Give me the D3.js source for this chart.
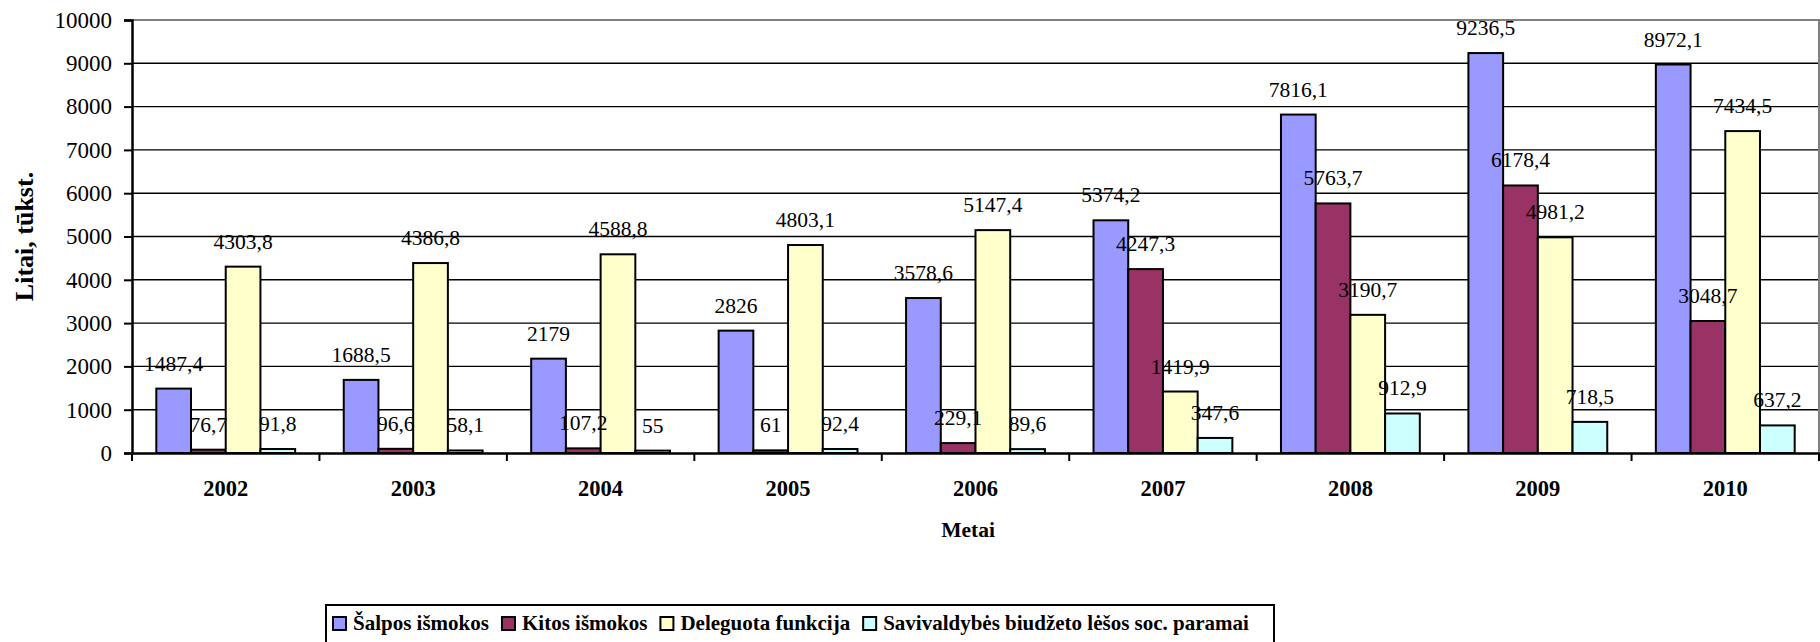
<!DOCTYPE html>
<html>
<head>
<meta charset="utf-8">
<script src="https://cdn.jsdelivr.net/npm/d3@7"></script>
</head>
<body style="margin:0; background:#fff">
<svg id="chart" width="1820" height="642"></svg>
<script>
var size = {width: 1820, height: 642}
var margins = {top: 20, right: 1, bottom: 189, left: 132}
var FONT = "'Liberation Serif'"

// data
var years = ["2002", "2003", "2004", "2005", "2006", "2007", "2008", "2009", "2010"]
var seriesNames = ["Šalpos išmokos", "Kitos išmokos", "Deleguota funkcija", "Savivaldybės biudžeto lėšos soc. paramai"]
var salpos = [1487.4, 1688.5, 2179, 2826, 3578.6, 5374.2, 7816.1, 9236.5, 8972.1]
var kitos = [76.7, 96.6, 107.2, 61, 229.1, 4247.3, 5763.7, 6178.4, 3048.7]
var deleguota = [4303.8, 4386.8, 4588.8, 4803.1, 5147.4, 1419.9, 3190.7, 4981.2, 7434.5]
var savivaldybes = [91.8, 58.1, 55, 92.4, 89.6, 347.6, 912.9, 718.5, 637.2]
var yTicks = [0, 1000, 2000, 3000, 4000, 5000, 6000, 7000, 8000, 9000, 10000]
var colors = ["#9999FF", "#993366", "#FFFFCC", "#CCFFFF"]

var allSeries = [salpos, kitos, deleguota, savivaldybes]

var svg = d3.select("#chart")

var width = size.width - margins.left - margins.right
var height = size.height - margins.top - margins.bottom

var xScale = d3.scaleBand()
    .domain(years)
    .range([margins.left, margins.left + width])
    .padding(0)

var inner = d3.scaleBand()
    .domain(d3.range(seriesNames.length))
    .range([0, xScale.bandwidth()])
    .paddingInner(0)
    .paddingOuter(0.7)

var yScale = d3.scaleLinear()
    .domain([0, 10000])
    .range([margins.top + height, margins.top])

// gridlines
svg.append("g")
    .selectAll("line")
    .data(yTicks.filter(function(t){ return t > 0 && t < 10000 }))
    .enter()
    .append("line")
    .attr("x1", margins.left)
    .attr("x2", margins.left + width)
    .attr("y1", function(t){ return yScale(t) })
    .attr("y2", function(t){ return yScale(t) })
    .attr("stroke", "#000")
    .attr("stroke-width", 1.4)

// plot area border (top + right, gray)
svg.append("path")
    .attr("d", "M" + margins.left + "," + yScale(10000) + "H" + (margins.left + width) + "V" + yScale(0))
    .attr("fill", "none")
    .attr("stroke", "#808080")
    .attr("stroke-width", 2)

// bars
var rows = years.map(function(y, i){
    return allSeries.map(function(s, k){ return {year: y, k: k, value: s[i]} })
})

var groups = svg.append("g")
    .selectAll("g")
    .data(rows)
    .enter()
    .append("g")
    .attr("transform", function(d){ return "translate(" + xScale(d[0].year) + ",0)" })

groups.selectAll("rect")
    .data(function(d){ return d })
    .enter()
    .append("rect")
    .attr("x", function(d){ return inner(d.k) })
    .attr("width", inner.bandwidth())
    .attr("y", function(d){ return yScale(d.value) })
    .attr("height", function(d){ return yScale(0) - yScale(d.value) })
    .attr("fill", function(d){ return colors[d.k] })
    .attr("stroke", "#000")
    .attr("stroke-width", 2)

// data labels
groups.selectAll("text")
    .data(function(d){ return d })
    .enter()
    .append("text")
    .attr("x", function(d){ return inner(d.k) + inner.bandwidth() / 2 })
    .attr("y", function(d){ return yScale(d.value) - 18 })
    .attr("text-anchor", "middle")
    .style("font-family", FONT)
    .style("font-size", "21.5px")
    .attr("fill", "#000")
    .text(function(d){ return String(d.value).replace(".", ",") })

// y axis
var yAxis = d3.axisLeft(yScale)
    .tickValues(yTicks)
    .tickSize(8)
    .tickPadding(12)
    .tickFormat(d3.format("d"))

var yg = svg.append("g")
    .attr("transform", "translate(" + margins.left + ",0)")
    .call(yAxis)
    .attr("font-family", null)
    .attr("font-size", null)
yg.select(".domain").attr("stroke", "#000").attr("stroke-width", 2.5)
yg.selectAll(".tick line").attr("stroke", "#000").attr("stroke-width", 2)
yg.selectAll(".tick text")
    .style("font-family", FONT)
    .style("font-size", "23px")
    .attr("fill", "#000")

// x axis
var xAxis = d3.axisBottom(xScale)
    .tickSize(0)
    .tickPadding(32)

var xg = svg.append("g")
    .attr("transform", "translate(0," + yScale(0) + ")")
    .call(xAxis)
    .attr("font-family", null)
    .attr("font-size", null)
xg.select(".domain").attr("stroke", "#000").attr("stroke-width", 2.5)
xg.selectAll(".tick text")
    .style("font-family", FONT)
    .style("font-size", "22.5px")
    .style("font-weight", "bold")
    .attr("fill", "#000")
    .attr("dy", 0)
    .attr("y", 43)

// category boundary ticks
xg.append("g")
    .selectAll("line")
    .data(years.concat(["end"]))
    .enter()
    .append("line")
    .attr("x1", function(d, i){ return margins.left + i * xScale.step() })
    .attr("x2", function(d, i){ return margins.left + i * xScale.step() })
    .attr("y1", 0)
    .attr("y2", 8)
    .attr("stroke", "#000")
    .attr("stroke-width", 2)

// axis titles
svg.append("text")
    .attr("x", 968)
    .attr("y", 537)
    .attr("text-anchor", "middle")
    .style("font-family", FONT)
    .style("font-size", "21.5px")
    .style("font-weight", "bold")
    .text("Metai")

svg.append("text")
    .attr("transform", "translate(33," + (margins.top + height / 2) + ") rotate(-90)")
    .attr("text-anchor", "middle")
    .style("font-family", FONT)
    .style("font-size", "26px")
    .style("font-weight", "bold")
    .text("Litai, tūkst.")

// legend
var legend = svg.append("g")
legend.append("rect")
    .attr("x", 326)
    .attr("y", 605)
    .attr("width", 948)
    .attr("height", 60)
    .attr("fill", "#fff")
    .attr("stroke", "#000")
    .attr("stroke-width", 2)

var lx = 333
seriesNames.forEach(function(name, k){
    legend.append("rect")
        .attr("x", lx)
        .attr("y", 617)
        .attr("width", 13)
        .attr("height", 13)
        .attr("fill", colors[k])
        .attr("stroke", "#000")
        .attr("stroke-width", 2)
    var t = legend.append("text")
        .attr("x", lx + 20)
        .attr("y", 630)
        .style("font-family", FONT)
        .style("font-size", "21px")
        .style("font-weight", "bold")
        .text(name)
    lx = lx + 20 + t.node().getComputedTextLength() + 13
})
</script>
</body>
</html>
